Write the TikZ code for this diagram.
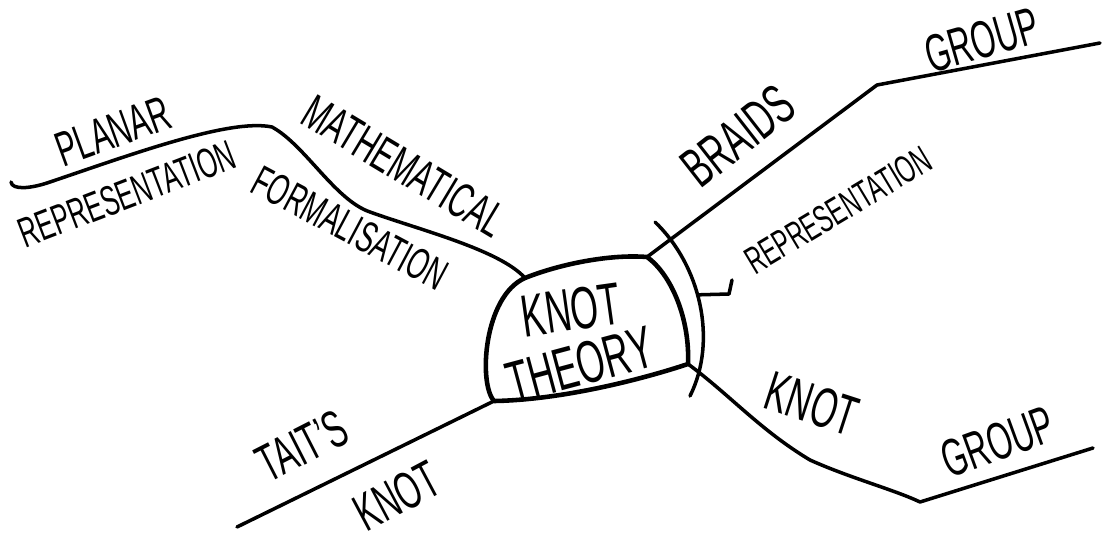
\documentclass[tikz,border=0pt]{standalone}
\usepackage{fontspec}
\usepackage{graphicx}
\setmainfont{Liberation Sans}
\usetikzlibrary{positioning}
\newcommand{\narrowtext}[1]{\scalebox{0.6}[1]{#1}}

\begin{document}
\begin{tikzpicture}[x=0.02cm, y=-0.02cm,
    branch/.style={line width=2pt, line cap=round, line join=round},
    blobline/.style={line width=2.6pt, line join=round},
    lbl/.style={inner sep=0pt, font={\fontsize{#1}{#1}\selectfont}}
]
\useasboundingbox (0,0) rectangle (1102,541);

% KNOT THEORY blob
\coordinate (ul) at (525,278);
\coordinate (ur) at (647,257);
\coordinate (lr) at (688,364);
\coordinate (ll) at (494,401);
\draw[blobline] (ul) .. controls (560,264) and (610,254) .. (ur)
    .. controls (672,275) and (690,320) .. (lr)
    .. controls (640,380) and (560,400) .. (ll)
    .. controls (478,383) and (484,296) .. (ul);
\node[lbl=34, rotate=8] (knot) at (571,310) {\narrowtext{KNOT}};
\node[lbl=34, rotate=15] (theory) at (580,365) {\narrowtext{THEORY}};

% MATHEMATICAL FORMALISATION / PLANAR REPRESENTATION
\coordinate (mf) at (272,127);
\coordinate (pr) at (11,182);
\draw[branch] (ul) .. controls (500,250) and (420,230) .. (370,212)
    .. controls (335,200) and (305,145) .. (mf)
    .. controls (230,118) and (130,155) .. (50,182)
    .. controls (30,189) and (12,190) .. (pr);
\node[lbl=28, rotate=20] (planar) at (113,131) {\narrowtext{PLANAR}};
\node[lbl=24, rotate=21] (planrep) at (127,194) {\narrowtext{REPRESENTATION}};
\node[lbl=28, rotate=-31] (math) at (404,166) {\narrowtext{MATHEMATICAL}};
\node[lbl=25, rotate=-28] (formal) at (350,228) {\narrowtext{FORMALISATION}};

% BRAIDS / GROUP
\coordinate (bg) at (877,85);
\coordinate (bgend) at (1100,43);
\draw[branch] (ur) -- (bg) -- (bgend);
\node[lbl=32, rotate=38] (braids) at (738,136) {\narrowtext{BRAIDS}};
\node[lbl=30, rotate=16] (braidgroup) at (982,40) {\narrowtext{GROUP}};

% REPRESENTATION bracket
\coordinate (arctop) at (655,222);
\coordinate (arcbot) at (690,396);
\coordinate (repjoin) at (729,294);
\coordinate (repup) at (732,280);
\draw[branch] (arctop) .. controls (700,265) and (718,340) .. coordinate[pos=0.45] (tickstart) (arcbot);
\draw[branch] (tickstart) -- (repjoin) -- (repup);
\node[lbl=22, rotate=31] (braidrep) at (838,210) {\narrowtext{REPRESENTATION}};

% KNOT / GROUP
\coordinate (kg) at (920,502);
\coordinate (kgend) at (1093,448);
\draw[branch] (lr) .. controls (730,395) and (760,430) .. (810,460)
    .. controls (850,478) and (895,490) .. (kg) -- (kgend);
\node[lbl=32, rotate=-18] (knotlbl) at (812,404) {\narrowtext{KNOT}};
\node[lbl=30, rotate=20] (knotgroup) at (998,442) {\narrowtext{GROUP}};

% TAIT'S KNOT
\coordinate (tk) at (237,527);
\draw[branch] (ll) -- (tk);
\node[lbl=30, rotate=27] (tait) at (302,446) {\narrowtext{TAIT'S}};
\node[lbl=30, rotate=28] (taitknot) at (397,496) {\narrowtext{KNOT}};
\end{tikzpicture}
\end{document}
